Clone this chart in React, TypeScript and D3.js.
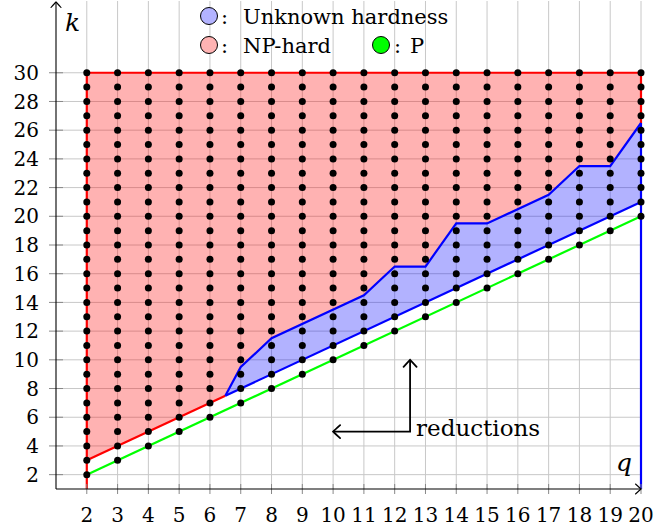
import React from "react";
import * as d3 from "d3";

// Parameter space: q on the horizontal axis, k on the vertical axis
const qTicks = [2, 3, 4, 5, 6, 7, 8, 9, 10, 11, 12, 13, 14, 15, 16, 17, 18, 19, 20];
const kTicks = [2, 4, 6, 8, 10, 12, 14, 16, 18, 20, 22, 24, 26, 28, 30];
// lowest k that is an instance for each q (instances run up to kMax)
const dotStartK = [2, 3, 4, 5, 6, 7, 8, 9, 10, 11, 12, 13, 14, 15, 16, 17, 18, 19, 20];
const kMax = 30;

// Polynomial line k = q
const pLine: [number, number][] = [[2, 2], [20, 20]];
// NP-hard lower boundary k = q + 1 up to the start of the unknown zone
const hardLower: [number, number][] = [[2, 3], [6.5, 7.5]];
// Lower boundary of the unknown zone
const unknownLower: [number, number][] = [[6.5, 7.5], [20, 21]];
// Upper boundary of the unknown zone
const unknownUpper: [number, number][] = [
  [6.5, 7.5], [7, 9.5], [8, 11.5], [11, 14.5], [12, 16.5], [13, 16.5],
  [14, 19.5], [15, 19.5], [17, 21.5], [18, 23.5], [19, 23.5], [20, 26.5],
];

const W = 654;
const H = 529;
const FONT = "'DejaVu Serif', serif";

export default function App() {
  const x = d3.scaleLinear().domain([1, 20]).range([56, 641]);
  const y = d3.scaleLinear().domain([1, 35]).range([489, 1]);
  const line = d3.line<[number, number]>().x((d) => x(d[0])).y((d) => y(d[1]));

  const hardPoly: [number, number][] = [
    [2, 3],
    ...hardLower.slice(1),
    ...unknownUpper.slice(1),
    [20, kMax],
    [2, kMax],
  ];
  const unknownPoly: [number, number][] = [
    ...unknownLower,
    ...unknownUpper.slice().reverse(),
  ];

  const dots: [number, number][] = [];
  qTicks.forEach((q, i) => {
    for (let k = dotStartK[i]; k <= kMax; k++) dots.push([q, k]);
  });

  const x0 = x(1);
  const y0 = y(1);

  return (
    <svg
      width={W}
      height={H}
      style={{ position: "absolute", left: 0, top: 0, background: "#fff" }}
      fontFamily={FONT}
    >
      <defs>
        <marker id="tip" viewBox="-8 -8 10 16" markerWidth="10" markerHeight="16"
          refX="0" refY="0" orient="auto-start-reverse" markerUnits="userSpaceOnUse">
          <path d="M -7 -6.5 Q -1.5 -1.5 0 0 Q -1.5 1.5 -7 6.5" fill="none" stroke="#000" strokeWidth="1.8" strokeLinecap="round" />
        </marker>
        <marker id="axtip" viewBox="-8 -8 10 16" markerWidth="10" markerHeight="16"
          refX="0" refY="0" orient="auto" markerUnits="userSpaceOnUse">
          <path d="M -5.5 -5 Q -1.2 -1.2 0 0 Q -1.2 1.2 -5.5 5" fill="none" stroke="#000" strokeWidth="1.1" strokeLinecap="round" />
        </marker>
      </defs>

      {/* grid */}
      <g stroke="#c8c8c8" strokeWidth={1}>
        {qTicks.map((q) => (
          <line key={"gx" + q} x1={x(q)} x2={x(q)} y1={y0} y2={y(35)} />
        ))}
        {kTicks.map((k) => (
          <line key={"gy" + k} x1={x0} x2={x(20)} y1={y(k)} y2={y(k)} />
        ))}
      </g>

      {/* regions */}
      <path d={line(hardPoly) + "Z"} fill="#ff0000" fillOpacity={0.3} stroke="none" />
      <path d={line(unknownPoly) + "Z"} fill="#0000ff" fillOpacity={0.3} stroke="none" />

      {/* boundaries */}
      <path d={line(pLine)!} fill="none" stroke="#00ff00" strokeWidth={2.2} />
      <path
        d={line([[2, 1], [2, kMax], [20, kMax], [20, 26.5]])!}
        fill="none" stroke="#ff0000" strokeWidth={2.2}
      />
      <path d={line(hardLower)!} fill="none" stroke="#ff0000" strokeWidth={2.2} />
      <path d={line(unknownLower)!} fill="none" stroke="#0000ff" strokeWidth={2.2} />
      <path d={line(unknownUpper)!} fill="none" stroke="#0000ff" strokeWidth={2.2} />
      <path d={line([[20, 26.5], [20, 1]])!} fill="none" stroke="#0000ff" strokeWidth={2.2} />

      {/* instances */}
      <g fill="#000">
        {dots.map(([q, k]) => (
          <circle key={q + "-" + k} cx={x(q)} cy={y(k)} r={3.5} />
        ))}
      </g>

      {/* reductions */}
      <path
        d={line([[12.5, 10], [12.5, 5], [10, 5]])!}
        fill="none" stroke="#000" strokeWidth={1.8}
        markerStart="url(#tip)" markerEnd="url(#tip)"
      />
      <text x={x(12.5) + 6} y={y(5) + 4} fontSize={23} fill="#000">reductions</text>

      {/* axes */}
      <g stroke="#888" strokeWidth={1}>
        {qTicks.map((q) => (
          <line key={"tx" + q} x1={x(q)} x2={x(q)} y1={y0 - 5} y2={y0 + 5} />
        ))}
        {kTicks.map((k) => (
          <line key={"ty" + k} x1={x0 - 7} x2={x0 + 7} y1={y(k)} y2={y(k)} />
        ))}
      </g>
      <line x1={x0} x2={x(20)} y1={y0} y2={y0} stroke="#000" strokeWidth={1.1} markerEnd="url(#axtip)" />
      <line x1={x0} x2={x0} y1={y0} y2={y(35) + 1} stroke="#000" strokeWidth={1.1} markerEnd="url(#axtip)" />

      <g fontSize={20} fill="#000">
        {qTicks.map((q) => (
          <text key={"lx" + q} x={x(q)} y={522} textAnchor="middle">{q}</text>
        ))}
        {kTicks.map((k) => (
          <text key={"ly" + k} x={39} y={y(k)} dy="0.36em" textAnchor="end">{k}</text>
        ))}
      </g>
      <text x={65} y={31} fontSize={25} fontStyle="italic">k</text>
      <text x={616} y={471} fontSize={25} fontStyle="italic">q</text>

      {/* legend */}
      <g fontSize={21} fill="#000">
        <circle cx={209} cy={16} r={8.5} fill="#b3b3ff" stroke="#000" strokeWidth={1} />
        <text x={221} y={24}>:</text>
        <text x={243} y={24}>Unknown hardness</text>
        <circle cx={209} cy={45} r={8.5} fill="#ffb3b3" stroke="#000" strokeWidth={1} />
        <text x={221} y={53}>:</text>
        <text x={243} y={53}>NP-hard</text>
        <circle cx={381} cy={45} r={8.5} fill="#00ff00" stroke="#000" strokeWidth={1} />
        <text x={394} y={53}>:</text>
        <text x={410} y={53}>P</text>
      </g>
    </svg>
  );
}
